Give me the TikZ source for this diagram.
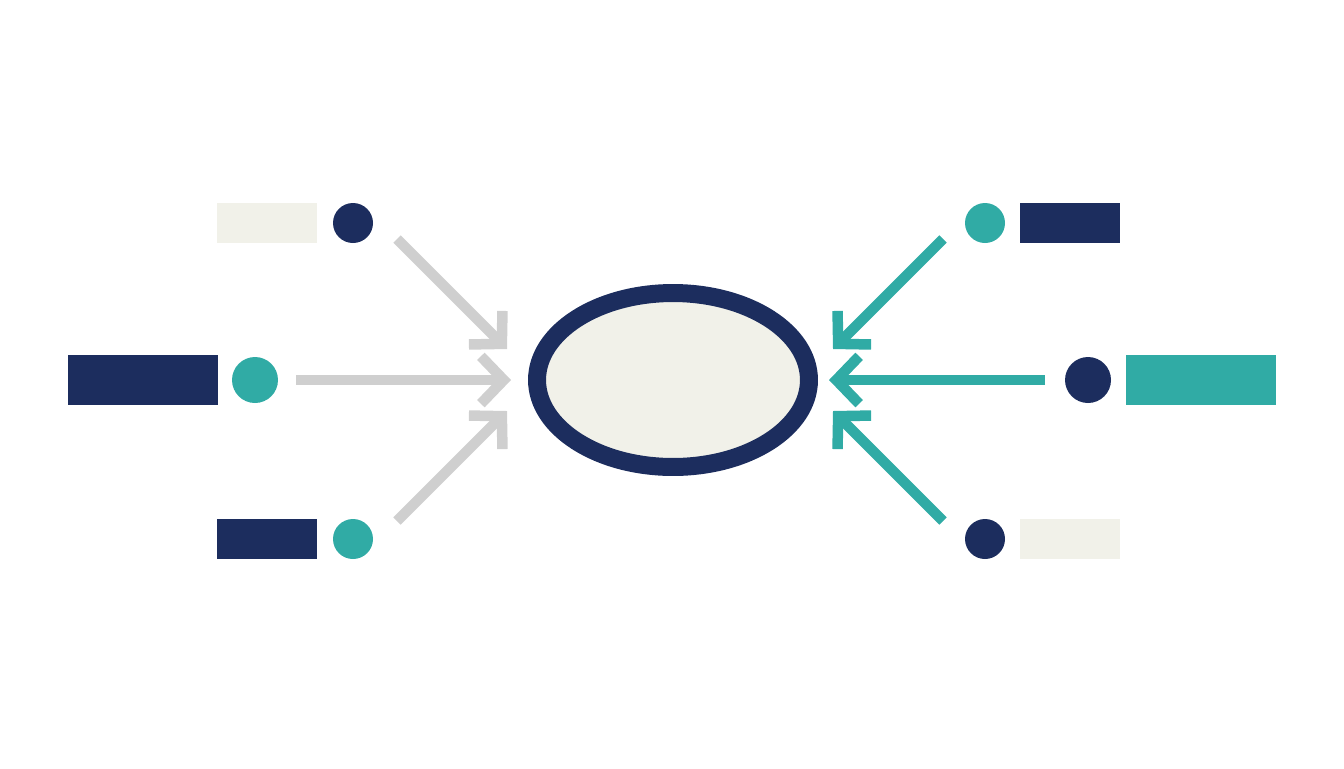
\documentclass[tikz,border=0pt]{standalone}
\usepackage{tikz}
\usetikzlibrary{shapes.geometric,arrows.meta}
\definecolor{navy}{HTML}{1C2D5E}
\definecolor{teal}{HTML}{30ABA5}
\definecolor{cream}{HTML}{F1F1E9}
\definecolor{lightgray}{HTML}{CFCFCF}

\begin{document}
\begin{tikzpicture}[x=0.02cm,y=-0.02cm,
    dot/.style={circle,inner sep=0pt,minimum size=0.8cm},
    bigdot/.style={circle,inner sep=0pt,minimum size=0.92cm},
    bar/.style={rectangle,inner sep=0pt,minimum width=2cm,minimum height=0.8cm},
    bigbar/.style={rectangle,inner sep=0pt,minimum width=3cm,minimum height=1cm},
    feed/.style={line width=0.21cm,-{Straight Barb[length=13pt,width=27pt]}}]
            \useasboundingbox (0,0) rectangle (1344,768);

            % centre
            \node[ellipse,draw=navy,fill=cream,line width=0.36cm,inner sep=0pt,
                  minimum width=5.44cm,minimum height=3.48cm] (hub) at (673,380) {};

            % left side
            \node[bar,fill=cream] (barTL) at (267,223) {};
            \node[dot,fill=navy] (dotTL) at (353,223) {};
            \node[bigbar,fill=navy] (barML) at (143,380) {};
            \node[bigdot,fill=teal] (dotML) at (255,380) {};
            \node[bar,fill=navy] (barBL) at (267,539) {};
            \node[dot,fill=teal] (dotBL) at (353,539) {};

            % right side
            \node[dot,fill=teal] (dotTR) at (985,223) {};
            \node[bar,fill=navy] (barTR) at (1070,223) {};
            \node[bigdot,fill=navy] (dotMR) at (1088,380) {};
            \node[bigbar,fill=teal] (barMR) at (1201,380) {};
            \node[dot,fill=navy] (dotBR) at (985,539) {};
            \node[bar,fill=cream] (barBR) at (1070,539) {};

            % arrow ends
            \coordinate (inTL) at (397,239);
            \coordinate (tipTL) at (507,349);
            \coordinate (inML) at (296,380);
            \coordinate (tipML) at (511,380);
            \coordinate (inBL) at (397,521);
            \coordinate (tipBL) at (507,411);
            \coordinate (inTR) at (943,239);
            \coordinate (tipTR) at (833,349);
            \coordinate (inMR) at (1045,380);
            \coordinate (tipMR) at (829,380);
            \coordinate (inBR) at (943,521);
            \coordinate (tipBR) at (833,411);

            \draw[feed,color=lightgray] (inTL) -- (tipTL);
            \draw[feed,color=lightgray] (inML) -- (tipML);
            \draw[feed,color=lightgray] (inBL) -- (tipBL);
            \draw[feed,color=teal] (inTR) -- (tipTR);
            \draw[feed,color=teal] (inMR) -- (tipMR);
            \draw[feed,color=teal] (inBR) -- (tipBR);
        \end{tikzpicture}
\end{document}
